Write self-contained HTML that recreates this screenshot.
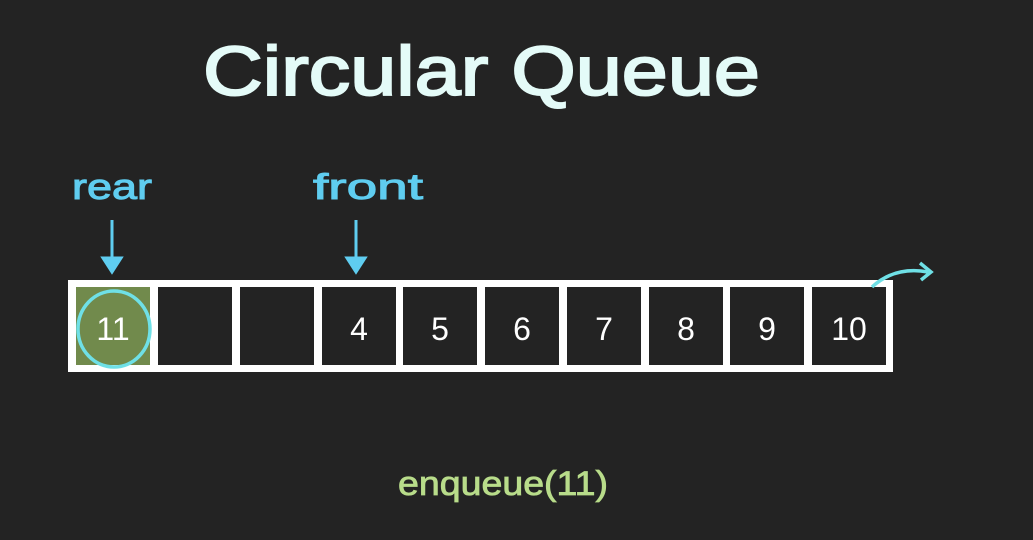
<!DOCTYPE html>
<html><head><meta charset="utf-8"><style>
html,body{margin:0;padding:0;background:#232323;}
svg{display:block}
text{font-family:"Liberation Sans",sans-serif;}
</style></head><body>
<svg width="1033" height="540" viewBox="0 0 1033 540" xmlns="http://www.w3.org/2000/svg">
<rect width="1033" height="540" fill="#232323"/>
<text x="203" y="95" font-size="70" fill="#e4fbf8" stroke="#e4fbf8" stroke-width="2" textLength="557" lengthAdjust="spacingAndGlyphs">Circular Queue</text>
<text x="72" y="199" font-size="36" fill="#5fcdf0" stroke="#5fcdf0" stroke-width="1" textLength="80" lengthAdjust="spacingAndGlyphs">rear</text>
<text x="313" y="199" font-size="36" fill="#5fcdf0" stroke="#5fcdf0" stroke-width="1" textLength="110" lengthAdjust="spacingAndGlyphs">front</text>
<g stroke="#5fcdf0" stroke-width="3" fill="#5fcdf0">
<line x1="112" y1="220" x2="112" y2="260"/>
<polygon points="103,258 121,258 112,272"/>
<line x1="356" y1="220" x2="356" y2="260"/>
<polygon points="347,258 365,258 356,272"/>
</g>
<rect x="68" y="280" width="825" height="92" fill="#ffffff"/>
<g fill="#232323">
<rect x="76" y="287" width="74" height="78" fill="#718a4c"/>
<rect x="158" y="287" width="74" height="78"/>
<rect x="240" y="287" width="74" height="78"/>
<rect x="322" y="287" width="74" height="78"/>
<rect x="403" y="287" width="74" height="78"/>
<rect x="485" y="287" width="74" height="78"/>
<rect x="567" y="287" width="74" height="78"/>
<rect x="649" y="287" width="74" height="78"/>
<rect x="730" y="287" width="74" height="78"/>
<rect x="812" y="287" width="74" height="78"/>
</g>
<g fill="#ffffff" font-size="32" text-anchor="middle">
<text x="113" y="340">11</text>
<text x="359" y="340">4</text>
<text x="440" y="340">5</text>
<text x="522" y="340">6</text>
<text x="604" y="340">7</text>
<text x="686" y="340">8</text>
<text x="767" y="340">9</text>
<text x="849" y="340">10</text>
</g>
<ellipse cx="114" cy="329" rx="36" ry="38" fill="none" stroke="#6fe0e6" stroke-width="3.5"/>
<path d="M872 287 Q895 266 928 272" fill="none" stroke="#6fe0e6" stroke-width="3.5"/>
<path d="M920 263 L931 272 L921 280" fill="none" stroke="#6fe0e6" stroke-width="3.5"/>
<text x="398" y="495" font-size="34" fill="#b8dc8a" stroke="#b8dc8a" stroke-width="0.8" textLength="210" lengthAdjust="spacingAndGlyphs">enqueue(11)</text>
</svg>
</body></html>
